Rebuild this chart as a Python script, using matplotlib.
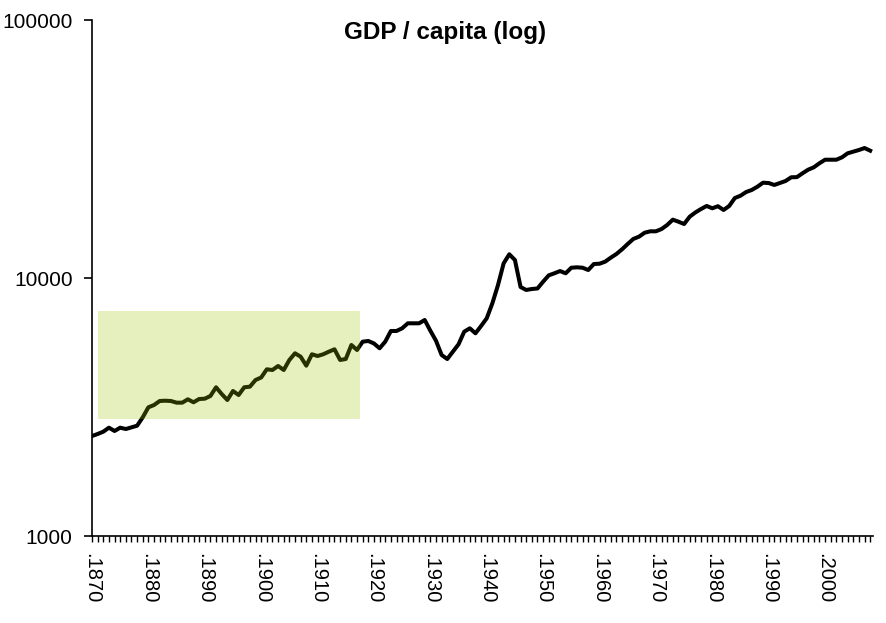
import matplotlib
matplotlib.use("Agg")
import matplotlib.pyplot as plt
from matplotlib.ticker import FixedLocator, FixedFormatter, MultipleLocator, NullLocator
from matplotlib.patches import Rectangle

plt.rcParams['font.family'] = ['Liberation Sans', 'DejaVu Sans']

# GDP per capita (log scale)
years = list(range(1870, 2009))
gdp = [
    2441, 2485, 2537, 2629, 2553, 2629, 2598, 2638, 2676, 2885,   # 1870s
    3154, 3219, 3336, 3345, 3336, 3287, 3287, 3387, 3298, 3396,   # 1880s
    3406, 3489, 3771, 3551, 3366, 3648, 3520, 3771, 3791, 4024,   # 1890s
    4115, 4427, 4400, 4560, 4400, 4811, 5107, 4955, 4573, 5062,   # 1900s
    4985, 5062, 5181, 5293, 4811, 4853, 5500, 5260, 5665, 5700,   # 1910s
    5575, 5341, 5665, 6232, 6232, 6383, 6674, 6674, 6674, 6874,   # 1920s
    6248, 5715, 5030, 4853, 5181, 5534, 6192, 6383, 6105, 6516,   # 1930s
    6980, 7980, 9395, 11400, 12360, 11740, 9229, 8986, 9066, 9107,  # 1940s
    9676, 10240, 10430, 10640, 10430, 10960, 11000, 10960, 10740, 11330,  # 1950s
    11360, 11570, 11990, 12390, 12920, 13550, 14170, 14460, 14980, 15170,  # 1960s
    15170, 15480, 16050, 16830, 16530, 16190, 17290, 17950, 18510, 19020,  # 1970s
    18630, 18980, 18350, 19020, 20420, 20840, 21540, 21940, 22590, 23410,  # 1980s
    23340, 22940, 23340, 23770, 24570, 24600, 25460, 26290, 26860, 27840,  # 1990s
    28740, 28740, 28740, 29360, 30430, 30870, 31340, 31900, 31150,         # 2000s
]
label_years = list(range(1870, 2001, 10))
y_ticks = [1000, 10000, 100000]

# highlighted period
hl_start, hl_end = 1871, 1917.6
hl_low, hl_high = 2834, 7450

fig = plt.figure(figsize=(8.86, 6.23), dpi=100)
ax = fig.add_axes([92 / 886, 1 - 536 / 623, (873 - 92) / 886, (536 - 20) / 623])

ax.plot(years, gdp, color='black', lw=2.9, solid_joinstyle='round', zorder=2)
ax.add_patch(Rectangle((hl_start, hl_low), hl_end - hl_start, hl_high - hl_low,
                       facecolor=(0.62, 0.78, 0.0), alpha=0.25, edgecolor='none', zorder=3))

ax.set_yscale('log')
ax.set_ylim(1000, 100000)
ax.yaxis.set_major_locator(FixedLocator(y_ticks))
ax.yaxis.set_major_formatter(FixedFormatter([str(v) for v in y_ticks]))
ax.yaxis.set_minor_locator(NullLocator())

ax.set_xlim(1870, 2008.5)
ax.xaxis.set_major_locator(FixedLocator(label_years))
ax.xaxis.set_major_formatter(FixedFormatter(['.' + str(y) for y in label_years]))
ax.xaxis.set_minor_locator(MultipleLocator(1))

for s in ['top', 'right']:
    ax.spines[s].set_visible(False)
for s in ['left', 'bottom']:
    ax.spines[s].set_linewidth(1.2)

ax.tick_params(axis='y', which='major', length=6, width=1.2, labelsize=15, pad=8)
ax.tick_params(axis='x', which='both', length=4, width=1.0, direction='out')
ax.tick_params(axis='x', which='major', labelsize=14.5, pad=8, labelrotation=270)

fig.text(445 / 886, 1 - 32 / 623, 'GDP / capita (log)', ha='center', va='center',
         fontsize=17.5, fontweight='bold')

fig.savefig('out.png', dpi=100)
